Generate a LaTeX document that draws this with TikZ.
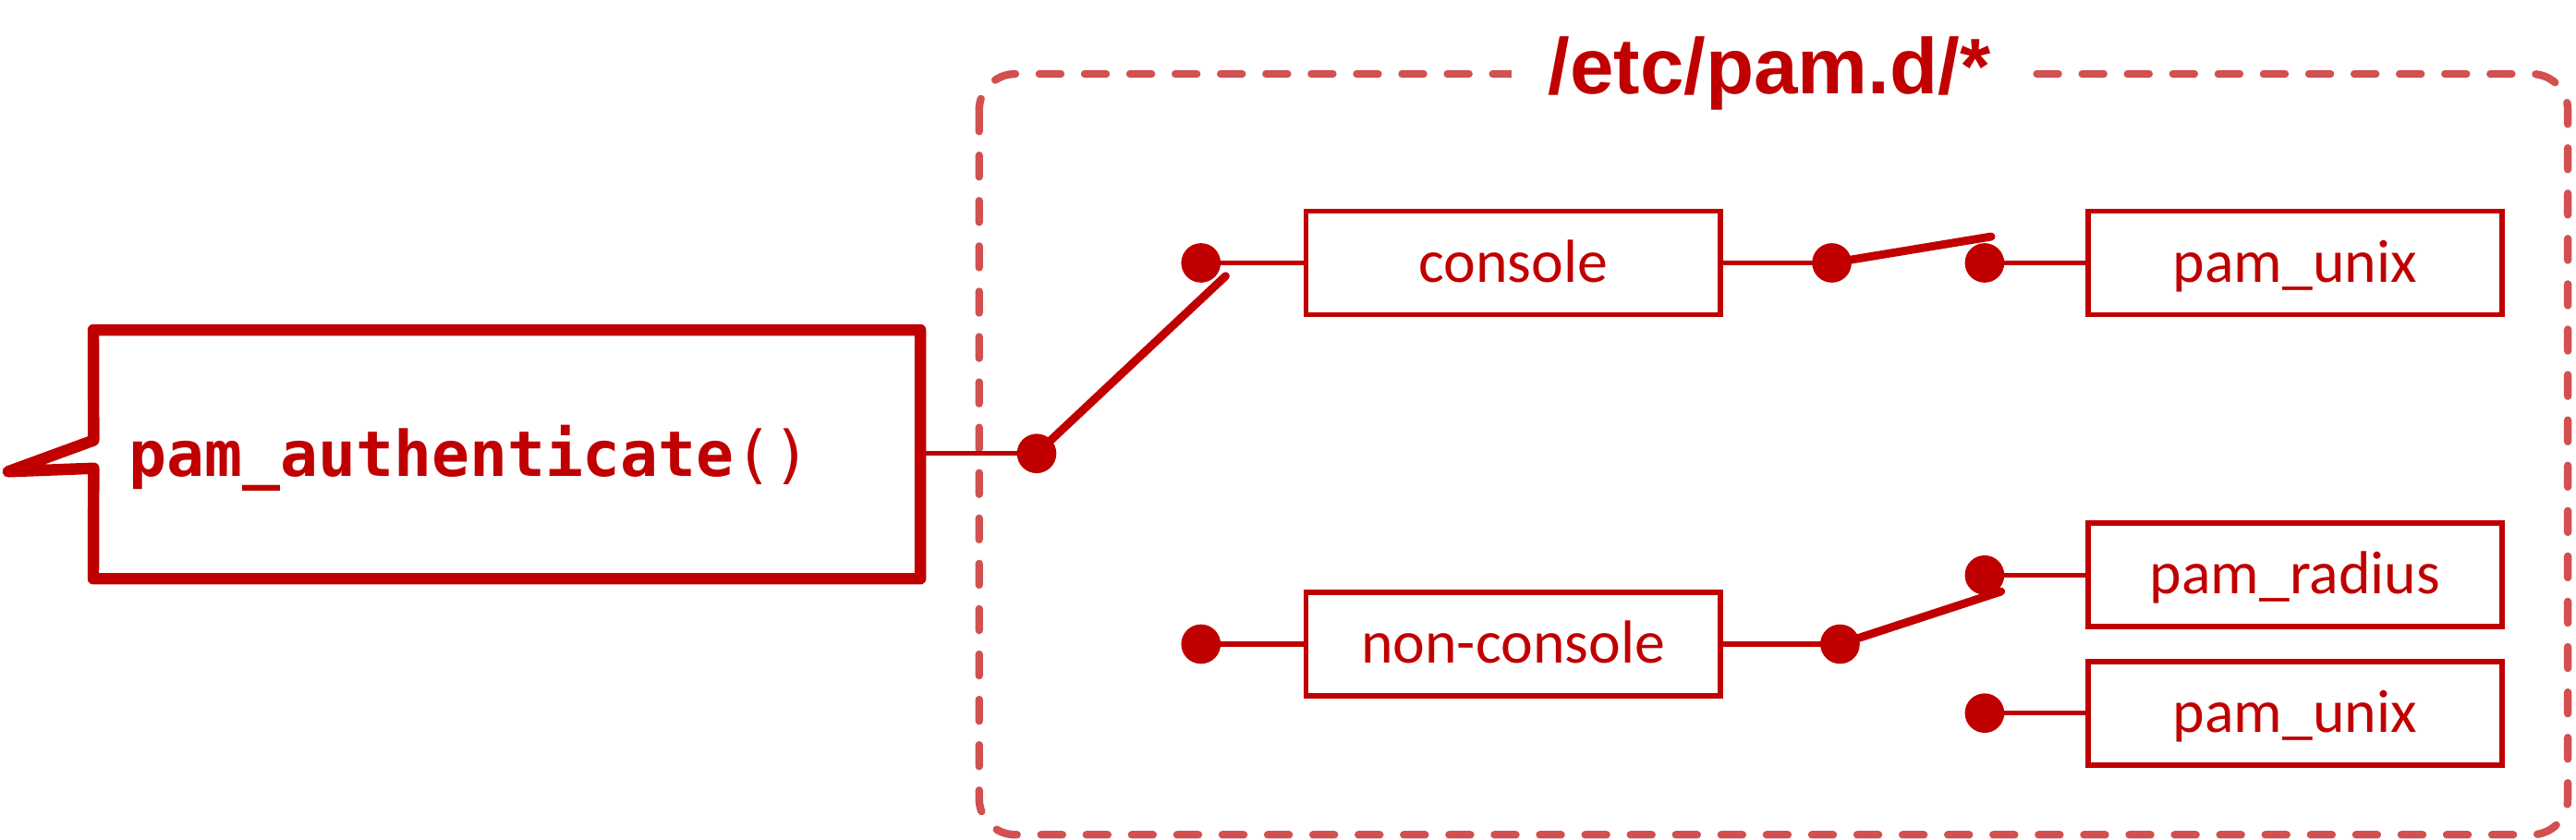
\documentclass[tikz,border=0pt]{standalone}
\usepackage{fontspec}
\setmainfont{Carlito}
\newfontfamily\pammono{DejaVu Sans Mono}
\newfontfamily\pamtitle{Liberation Sans}
\definecolor{pamred}{RGB}{192,0,0}
\definecolor{dashred}{RGB}{210,80,80}
\begin{document}
\begin{tikzpicture}[x=1pt,y=-1pt,
  modbox/.style={draw=pamred, line width=3.2pt, minimum width=252pt, minimum height=63pt,
    inner sep=0pt, text=pamred, font=\fontsize{37}{40}\selectfont, text height=23.2pt, text depth=0pt},
  wire/.style={draw=pamred, line width=3pt},
  lever/.style={draw=pamred, line width=5pt, line cap=round},
  dot/.style={circle, fill=pamred, minimum size=24pt, inner sep=0pt},
]
\useasboundingbox (0,0) rectangle (1568,510.7);

% dashed frame
\draw[dashred, line width=4.7pt, line cap=round, dash pattern=on 13pt off 14.6pt, rounded corners=22pt]
  (596,45) rectangle (1563,508);
\node[fill=white, text=pamred, font=\pamtitle\bfseries\fontsize{48}{50}\selectfont,
  anchor=base, inner xsep=22pt, inner ysep=2pt] (title) at (1077,57) {/etc/pam.d/*};

% pam_authenticate callout
\node[minimum width=503pt, minimum height=151pt, inner sep=0pt] (auth) at (308.5,276.5) {};
\draw[pamred, line width=7pt, line join=round]
  (57,285) -- (auth.south west) -- (auth.south east) -- (auth.north east)
  -- (auth.north west) -- (57,268) -- (5,287) -- cycle;
\node[anchor=base west, text=pamred, inner sep=0pt,
  font=\pammono\fontsize{38.3}{40}\selectfont] (authtext) at (78,290) {\textbf{pam\_authenticate}()};

% boxes
\node[modbox] (console) at (921,160) {console};
\node[modbox] (unixa) at (1397,160) {pam\_unix};
\node[modbox] (noncon) at (921,392) {non-console};
\node[modbox] (radius) at (1397,350) {pam\_radius};
\node[modbox] (unixb) at (1397,434) {pam\_unix};

% dots
\node[dot] (d0) at (631,276) {};
\node[dot] (d1) at (731,160) {};
\node[dot] (d2) at (1115,160) {};
\node[dot] (d3) at (1208,160) {};
\node[dot] (d4) at (731,392) {};
\node[dot] (d5) at (1120,392) {};
\node[dot] (d6) at (1208,350) {};
\node[dot] (d7) at (1208,434) {};

% lever ends
\coordinate (l0) at (746,168);
\coordinate (l2) at (1212,144);
\coordinate (l5) at (1218,360);

% wires
\draw[wire] (auth.east |- d0) -- (d0.center);
\draw[wire] (d1.center) -- (console.west);
\draw[wire] (console.east) -- (d2.center);
\draw[wire] (d3.center) -- (unixa.west);
\draw[wire] (d4.center) -- (noncon.west);
\draw[wire] (noncon.east) -- (d5.center);
\draw[wire] (d6.center) -- (radius.west);
\draw[wire] (d7.center) -- (unixb.west);

% levers
\draw[lever] (d0.center) -- (l0);
\draw[lever] (d2.center) -- (l2);
\draw[lever] (d5.center) -- (l5);
\end{tikzpicture}
\end{document}
